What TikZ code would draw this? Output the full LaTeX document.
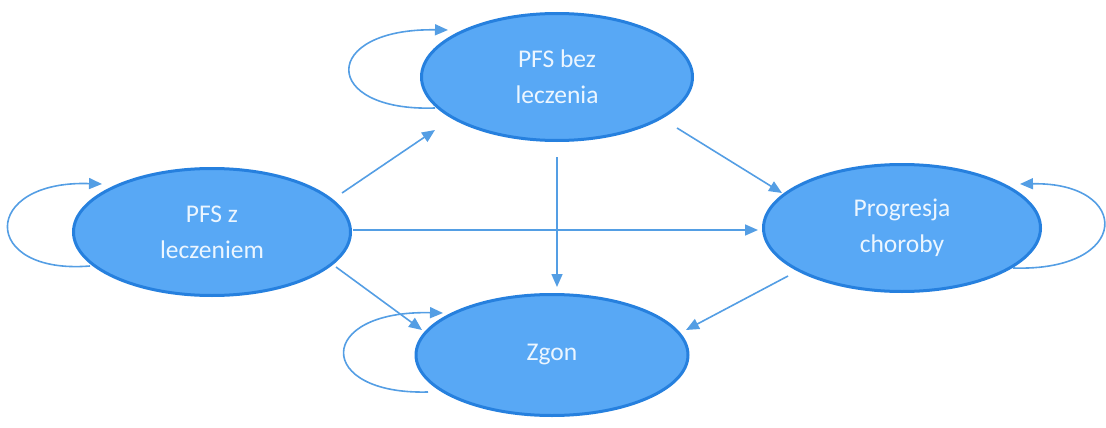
\documentclass[tikz,border=0pt]{standalone}
\usepackage{fontspec}
\setmainfont{Carlito}
\usetikzlibrary{shapes.geometric,arrows.meta}
\definecolor{ellfill}{RGB}{88,168,245}
\definecolor{elldraw}{RGB}{38,128,222}
\definecolor{arrcol}{RGB}{84,158,228}
\definecolor{txtcol}{RGB}{236,246,255}
\tikzset{
  state/.style={ellipse, draw=elldraw, fill=ellfill, line width=3pt, inner sep=0pt,
    minimum width=#1, minimum height=127pt, text=txtcol, align=center,
    font=\fontsize{25.5}{36}\selectfont},
  arr/.style={draw=arrcol, line width=1.6pt, -{Triangle[length=13pt,width=11pt]}},
}
\begin{document}
\begin{tikzpicture}[x=1pt,y=-1pt]
\useasboundingbox (0,0) rectangle (1106,428);
\node[state=277pt] (L) at (212,232) {PFS z\\leczeniem};
\node[state=271pt] (T) at (557,77) {PFS bez\\leczenia};
\node[state=272pt, minimum height=121pt] (Z) at (552,355) {Zgon};
\node[state=277pt] (R) at (902,228) {Progresja\\choroby};
% straight transitions
\draw[arr] ([shift={(130,-39)}]L.center) -- ([shift={(-122,53)}]T.center);
\draw[arr] ([shift={(141,-2)}]L.center) -- ([shift={(-144,2)}]R.center);
\draw[arr] ([shift={(124,35)}]L.center) -- ([shift={(-130,-25)}]Z.center);
\draw[arr] ([shift={(0,80)}]T.center) -- ([shift={(5,-68)}]Z.center);
\draw[arr] ([shift={(120,51)}]T.center) -- ([shift={(-120,-35)}]R.center);
\draw[arr] ([shift={(-114,48)}]R.center) -- ([shift={(134,-25)}]Z.center);
% self loops
\draw[arr] ([shift={(-122,34)}]L.center) .. controls (-20,275) and (-20,180) .. ([shift={(-110,-48)}]L.center);
\draw[arr] ([shift={(-122,31)}]T.center) .. controls (320,112) and (320,28) .. ([shift={(-109,-47)}]T.center);
\draw[arr] ([shift={(-124,37)}]Z.center) .. controls (315,395) and (315,310) .. ([shift={(-109,-42)}]Z.center);
\draw[arr] ([shift={(111,40)}]R.center) .. controls (1132,272) and (1132,182) .. ([shift={(118,-44)}]R.center);
\end{tikzpicture}
\end{document}
